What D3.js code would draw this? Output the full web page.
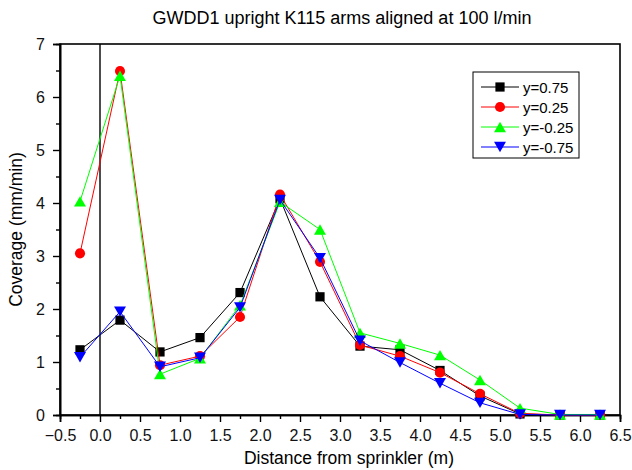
<!DOCTYPE html>
<html>
<head>
<meta charset="utf-8">
<script src="https://cdn.jsdelivr.net/npm/d3@7"></script>
<style>
body { margin: 0; background: #fff; }
svg { font-family: Arial, "Liberation Sans", sans-serif; }
</style>
</head>
<body>
<svg id="chart"></svg>
<script>

// data
var distances = [-0.25, 0.25, 0.75, 1.25, 1.75, 2.25, 2.75, 3.25, 3.75, 4.25, 4.75, 5.25, 5.75, 6.25]
var seriesNames = ["y=0.75", "y=0.25", "y=-0.25", "y=-0.75"]
var yPos075 = [1.23, 1.79, 1.19, 1.46, 2.31, 4.08, 2.23, 1.30, 1.23, 0.84, 0.36, 0.02, 0.0, 0.0]
var yPos025 = [3.05, 6.49, 0.94, 1.11, 1.85, 4.16, 2.89, 1.32, 1.11, 0.80, 0.40, 0.03, 0.0, 0.0]
var yNeg025 = [4.03, 6.40, 0.77, 1.07, 2.07, 4.02, 3.50, 1.55, 1.35, 1.13, 0.66, 0.13, 0.01, 0.01]
var yNeg075 = [1.09, 1.95, 0.91, 1.08, 2.03, 4.06, 2.96, 1.40, 0.99, 0.60, 0.23, 0.01, 0.0, 0.0]
var xTicks = [-0.5, 0, 0.5, 1, 1.5, 2, 2.5, 3, 3.5, 4, 4.5, 5, 5.5, 6, 6.5]
var yTicks = [0, 1, 2, 3, 4, 5, 6, 7]

var seriesColors = ["#000000", "#ff0000", "#00ff00", "#0000ff"]
var seriesSymbols = ["square", "circle", "up", "down"]
var allSeries = [yPos075, yPos025, yNeg025, yNeg075]

var screen = {width: 632, height: 470}
var margins = {left: 60, right: 12, top: 44, bottom: 55}
var graph = {
    width: screen.width - margins.left - margins.right,
    height: screen.height - margins.top - margins.bottom
}

var svg = d3.select("#chart")
    .attr("width", screen.width)
    .attr("height", screen.height)

var xScale = d3.scaleLinear().domain([-0.5, 6.5]).range([0, graph.width])
var yScale = d3.scaleLinear().domain([0, 7]).range([graph.height, 0])

var target = svg.append("g")
    .attr("transform", "translate(" + margins.left + "," + margins.top + ")")

// frame
target.append("rect")
    .attr("x", 0).attr("y", 0)
    .attr("width", graph.width).attr("height", graph.height)
    .attr("fill", "none").attr("stroke", "black").attr("stroke-width", 1.6)

// zero line
target.append("line")
    .attr("x1", xScale(0)).attr("x2", xScale(0))
    .attr("y1", 0).attr("y2", graph.height)
    .attr("stroke", "black").attr("stroke-width", 1.4)

// axes
var fmt = d3.format(".1f")
target.append("g")
    .attr("transform", "translate(0," + graph.height + ")")
    .call(d3.axisBottom(xScale).tickValues(xTicks).tickFormat(fmt).tickSize(7).tickPadding(8))
target.append("g")
    .attr("transform", "translate(0," + graph.height + ")")
    .call(d3.axisBottom(xScale).tickValues(d3.range(-0.25, 6.5, 0.5)).tickFormat("").tickSize(4))

target.append("g")
    .call(d3.axisLeft(yScale).tickValues(yTicks).tickFormat(d3.format("d")).tickSize(7).tickPadding(8))
target.append("g")
    .call(d3.axisLeft(yScale).tickValues(d3.range(0.5, 7, 1)).tickFormat("").tickSize(4))

target.selectAll(".domain").attr("stroke-width", 1.6)
target.selectAll(".tick line").attr("stroke-width", 1.4)
target.selectAll(".tick text").attr("font-size", 16).attr("fill", "#111")

// series
var triSize = 62
var symbolFor = function(name) {
    if (name == "square") return d3.symbol().type(d3.symbolSquare).size(85)()
    if (name == "circle") return d3.symbol().type(d3.symbolCircle).size(80)()
    return d3.symbol().type(d3.symbolTriangle).size(triSize)()
}
// shift so the triangle's box is centred on the point
var triShift = Math.sqrt(triSize / (Math.sqrt(3) * 3)) / 2
var markTransform = function(name, x, y) {
    if (name == "up") return "translate(" + x + "," + (y + triShift) + ")"
    if (name == "down") return "translate(" + x + "," + (y - triShift) + ") rotate(180)"
    return "translate(" + x + "," + y + ")"
}

var line = d3.line()
    .x(function(d, i) { return xScale(distances[i]) })
    .y(function(d) { return yScale(d) })

allSeries.forEach(function(values, s) {
    var g = target.append("g")
    g.append("path")
        .datum(values)
        .attr("d", line)
        .attr("fill", "none")
        .attr("stroke", seriesColors[s])
        .attr("stroke-width", 1)
    g.selectAll("path.pt")
        .data(values)
        .enter()
        .append("path")
        .attr("class", "pt")
        .attr("d", symbolFor(seriesSymbols[s]))
        .attr("transform", function(d, i) {
            return markTransform(seriesSymbols[s], xScale(distances[i]), yScale(d))
        })
        .attr("fill", seriesColors[s])
})

// legend
var legend = svg.append("g").attr("transform", "translate(473,72)")
legend.append("rect")
    .attr("width", 106).attr("height", 86)
    .attr("fill", "white").attr("stroke", "black").attr("stroke-width", 1)

seriesNames.forEach(function(name, s) {
    var row = legend.append("g").attr("transform", "translate(0," + (15 + s * 20) + ")")
    row.append("line")
        .attr("x1", 8).attr("x2", 46).attr("y1", 0).attr("y2", 0)
        .attr("stroke", seriesColors[s]).attr("stroke-width", 1)
    row.append("path")
        .attr("d", symbolFor(seriesSymbols[s]))
        .attr("transform", markTransform(seriesSymbols[s], 27, 0))
        .attr("fill", seriesColors[s])
    row.append("text")
        .attr("x", 50).attr("y", 5.5)
        .attr("font-size", 15)
        .text(name)
})

// labels
svg.append("text")
    .attr("x", 342).attr("y", 24)
    .attr("text-anchor", "middle")
    .attr("font-size", 18)
    .text("GWDD1 upright K115 arms aligned at 100 l/min")

svg.append("text")
    .attr("x", 349).attr("y", 464)
    .attr("text-anchor", "middle")
    .attr("font-size", 17.5)
    .text("Distance from sprinkler (m)")

svg.append("g")
    .attr("transform", "translate(22," + (margins.top + graph.height / 2) + ")")
    .append("text")
    .attr("text-anchor", "middle")
    .attr("transform", "rotate(270)")
    .attr("font-size", 17.5)
    .text("Coverage (mm/min)")

</script>
</body>
</html>
